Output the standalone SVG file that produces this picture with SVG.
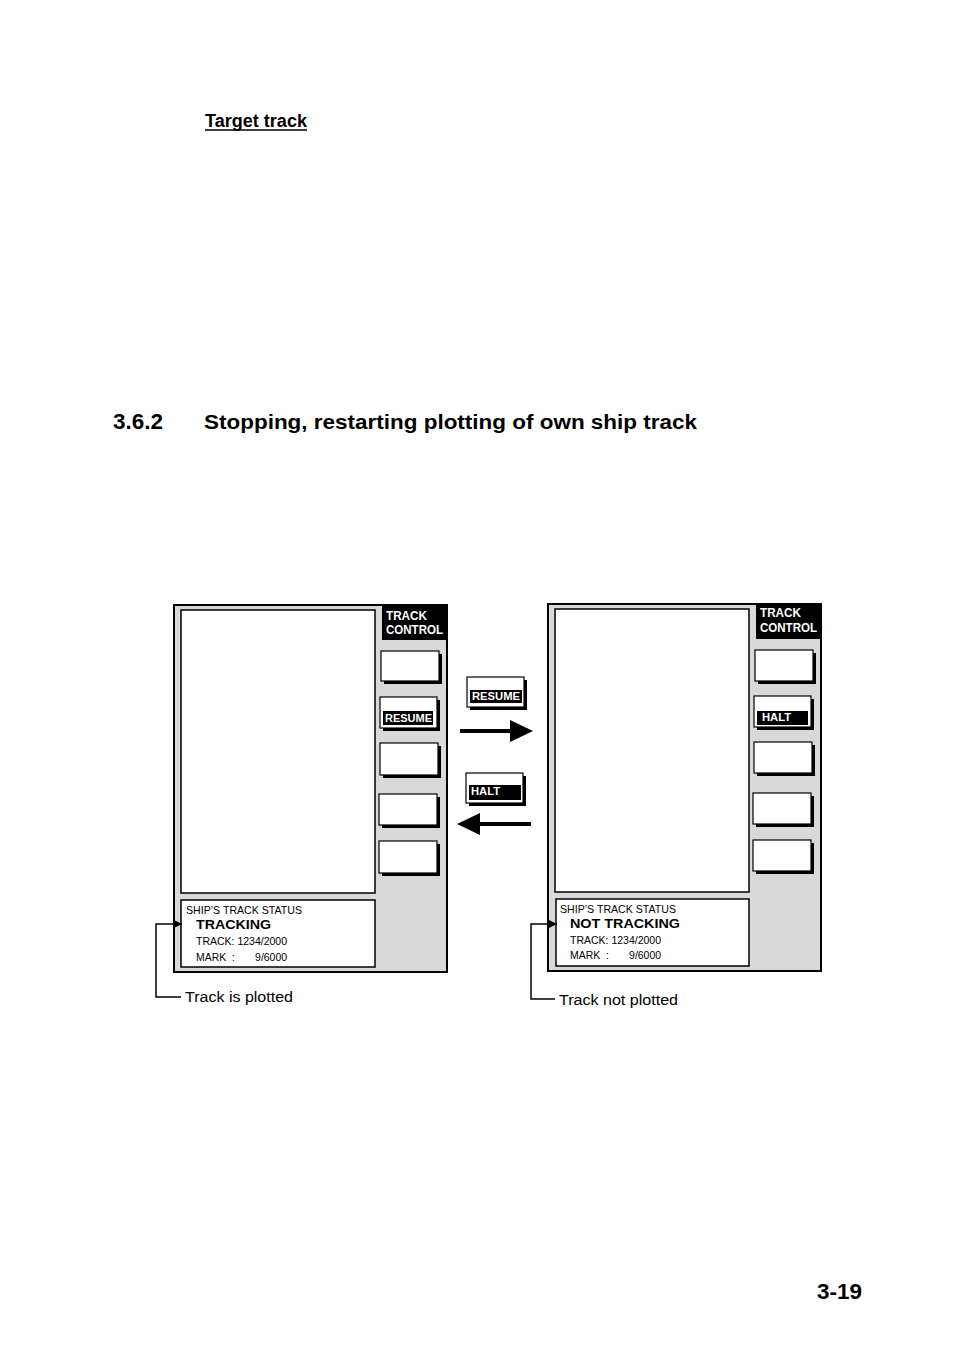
<svg xmlns="http://www.w3.org/2000/svg" width="954" height="1351" viewBox="0 0 954 1351">
<style>
.panel{fill:#d9d9d9;stroke:#000;stroke-width:2}
.disp{fill:#fff;stroke:#000;stroke-width:1.5}
.btn{fill:#fff;stroke:#000;stroke-width:1.2}
.sh{fill:#000}
.lbl{font-family:"Liberation Sans",Arial,sans-serif;font-weight:bold;fill:#fff}
.t{font-family:"Liberation Sans",Arial,sans-serif;fill:#000}
.b{font-weight:bold}
.lead{fill:none;stroke:#000;stroke-width:1.5}
</style>
<defs>
<marker id="ah" viewBox="0 0 10 10" refX="10" refY="5" markerWidth="10" markerHeight="8" markerUnits="userSpaceOnUse" orient="auto">
<path d="M0,0 L10,5 L0,10 z" fill="#000"/>
</marker>
</defs>
<rect width="954" height="1351" fill="#fff"/>

<g id="headings">
<text class="t b" x="205" y="127" font-size="17.5" textLength="102" lengthAdjust="spacingAndGlyphs">Target track</text>
<line x1="205" y1="130" x2="307" y2="130" stroke="#000" stroke-width="1.5"/>
<text class="t b" x="113" y="429" font-size="21.5" textLength="50" lengthAdjust="spacingAndGlyphs">3.6.2</text>
<text class="t b" x="204" y="429" font-size="21" textLength="493" lengthAdjust="spacingAndGlyphs">Stopping, restarting plotting of own ship track</text>
<text class="t b" x="817" y="1299" font-size="22.5">3-19</text>
</g>

<g id="left-panel">
<rect class="panel" x="174" y="605" width="273" height="367"/>
<rect class="disp" x="181" y="610" width="194" height="283"/>
<rect fill="#000" x="382" y="605" width="65" height="35"/>
<text class="lbl" x="386" y="620" font-size="12" textLength="41" lengthAdjust="spacingAndGlyphs">TRACK</text>
<text class="lbl" x="386" y="634" font-size="12" textLength="57" lengthAdjust="spacingAndGlyphs">CONTROL</text>
<rect class="sh" x="384" y="654" width="58" height="30"/>
<rect class="btn" x="381" y="651" width="58" height="30"/>
<rect class="sh" x="383" y="700" width="57" height="31"/>
<rect class="btn" x="380" y="697" width="57" height="31"/>
<rect fill="#000" x="383" y="711" width="50" height="14"/>
<text class="lbl" x="385" y="721.5" font-size="10.5" textLength="47" lengthAdjust="spacingAndGlyphs">RESUME</text>
<rect class="sh" x="383" y="746" width="58" height="32"/>
<rect class="btn" x="380" y="743" width="58" height="32"/>
<rect class="sh" x="382" y="797" width="58" height="31"/>
<rect class="btn" x="379" y="794" width="58" height="31"/>
<rect class="sh" x="382" y="844" width="58" height="32"/>
<rect class="btn" x="379" y="841" width="58" height="32"/>
<rect class="disp" x="181" y="900" width="194" height="67"/>
<text class="t" x="186" y="914" font-size="11" textLength="116" lengthAdjust="spacingAndGlyphs">SHIP’S TRACK STATUS</text>
<text class="t b" x="196" y="929" font-size="13.5" textLength="75" lengthAdjust="spacingAndGlyphs">TRACKING</text>
<text class="t" x="196" y="945" font-size="11" textLength="91" lengthAdjust="spacingAndGlyphs">TRACK: 1234/2000</text>
<text class="t" x="196" y="961" font-size="11" xml:space="preserve" textLength="91" lengthAdjust="spacingAndGlyphs">MARK  :       9/6000</text>
</g>

<g id="right-panel">
<rect class="panel" x="548" y="604" width="273" height="367"/>
<rect class="disp" x="555" y="609" width="194" height="283"/>
<rect fill="#000" x="756" y="604" width="65" height="35"/>
<text class="lbl" x="760" y="617" font-size="12" textLength="41" lengthAdjust="spacingAndGlyphs">TRACK</text>
<text class="lbl" x="760" y="632" font-size="12" textLength="57" lengthAdjust="spacingAndGlyphs">CONTROL</text>
<rect class="sh" x="758" y="653" width="58" height="31"/>
<rect class="btn" x="755" y="650" width="58" height="31"/>
<rect class="sh" x="757" y="699" width="57" height="31"/>
<rect class="btn" x="754" y="696" width="57" height="31"/>
<rect fill="#000" x="757" y="711" width="51" height="14"/>
<text class="lbl" x="762" y="721" font-size="10.5" textLength="29" lengthAdjust="spacingAndGlyphs">HALT</text>
<rect class="sh" x="757" y="745" width="58" height="31"/>
<rect class="btn" x="754" y="742" width="58" height="31"/>
<rect class="sh" x="756" y="796" width="58" height="31"/>
<rect class="btn" x="753" y="793" width="58" height="31"/>
<rect class="sh" x="756" y="843" width="58" height="31"/>
<rect class="btn" x="753" y="840" width="58" height="31"/>
<rect class="disp" x="556" y="899" width="193" height="67"/>
<text class="t" x="560" y="913" font-size="11" textLength="116" lengthAdjust="spacingAndGlyphs">SHIP’S TRACK STATUS</text>
<text class="t b" x="570" y="928" font-size="13.5" textLength="110" lengthAdjust="spacingAndGlyphs">NOT TRACKING</text>
<text class="t" x="570" y="944" font-size="11" textLength="91" lengthAdjust="spacingAndGlyphs">TRACK: 1234/2000</text>
<text class="t" x="570" y="959" font-size="11" xml:space="preserve" textLength="91" lengthAdjust="spacingAndGlyphs">MARK  :       9/6000</text>
</g>

<g id="resume-key">
<rect class="sh" x="470" y="680" width="57" height="30"/>
<rect class="btn" x="467" y="677" width="57" height="30"/>
<rect fill="#000" x="470" y="690" width="52" height="13"/>
<text class="lbl" x="472" y="700" font-size="10" textLength="48" lengthAdjust="spacingAndGlyphs">RESUME</text>
</g>

<g id="halt-key">
<rect class="sh" x="469" y="776" width="57" height="30"/>
<rect class="btn" x="466" y="773" width="57" height="30"/>
<rect fill="#000" x="469" y="785" width="52" height="15"/>
<text class="lbl" x="471" y="795" font-size="10.5" textLength="29" lengthAdjust="spacingAndGlyphs">HALT</text>
</g>

<g id="connectors">
<line x1="460" y1="731" x2="512" y2="731" stroke="#000" stroke-width="4"/>
<path d="M510,720 L533,731 L510,742 z" fill="#000"/>
<line x1="478" y1="824" x2="531" y2="824" stroke="#000" stroke-width="4"/>
<path d="M480,813 L457,824 L480,835 z" fill="#000"/>
<polyline class="lead" points="181,997 156,997 156,924 182,924" marker-end="url(#ah)"/>
<text class="t" x="185" y="1002" font-size="15.5" textLength="108" lengthAdjust="spacingAndGlyphs">Track is plotted</text>
<polyline class="lead" points="555,999 531,999 531,924 557,924" marker-end="url(#ah)"/>
<text class="t" x="559" y="1005" font-size="15.5" textLength="119" lengthAdjust="spacingAndGlyphs">Track not plotted</text>
</g>
</svg>
